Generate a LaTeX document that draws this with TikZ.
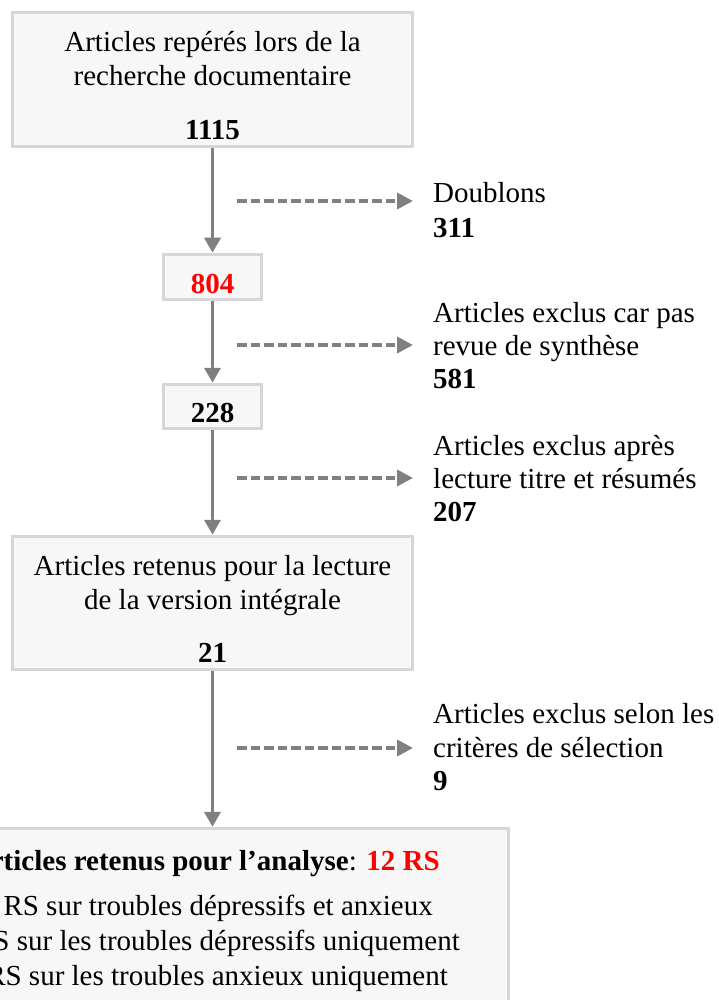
\documentclass[tikz,border=0pt]{standalone}
\usepackage{fontspec}
\setmainfont{Liberation Serif}
\usetikzlibrary{arrows.meta}
\definecolor{boxfill}{HTML}{F7F7F7}
\definecolor{boxline}{HTML}{D6D6D6}
\definecolor{arrowgray}{HTML}{808080}
\definecolor{numred}{HTML}{FF0000}
\begin{document}
\begin{tikzpicture}[x=1pt,y=-1pt,
  box/.style={draw=boxline, line width=3.5pt, fill=boxfill, inner sep=0pt, rectangle},
  txt/.style={inner sep=0pt, anchor=base, font=\fontsize{29}{34}\selectfont},
  rtxt/.style={inner sep=0pt, anchor=base east, font=\fontsize{29}{34}\selectfont},
  lab/.style={inner sep=0pt, anchor=base west, font=\fontsize{29}{34}\selectfont},
  flow/.style={draw=arrowgray, line width=3.8pt, -{Triangle[length=15pt,width=16pt]}},
  excl/.style={draw=arrowgray, line width=3.8pt, dash pattern=on 9.5pt off 4pt, -{Triangle[length=16pt,width=16pt]}}]
\useasboundingbox (0,0) rectangle (718,1000);
\clip (0,0) rectangle (718,1000);

% boxes
\node[box, minimum width=400pt, minimum height=134pt] (b1) at (212.5,79.5) {};
\node[box, minimum width=98pt, minimum height=45pt] (b2) at (212.5,277) {};
\node[box, minimum width=98pt, minimum height=44pt] (b3) at (212.5,406.5) {};
\node[box, minimum width=400pt, minimum height=133pt] (b4) at (212.5,603) {};
\node[box, minimum width=592pt, minimum height=231.5pt] (b5) at (212.5,944.25) {};

% box texts
\node[txt] (t1a) at (212.5,52) {Articles repérés lors de la};
\node[txt] (t1b) at (212.5,86) {recherche documentaire};
\node[txt] (t1c) at (212.5,140) {\textbf{1115}};
\node[txt] (t2) at (212.5,293) {\textcolor{numred}{\textbf{804}}};
\node[txt] (t3) at (212.5,422) {\textbf{228}};
\node[txt] (t4a) at (212.5,575) {Articles retenus pour la lecture};
\node[txt] (t4b) at (212.5,609) {de la version intégrale};
\node[txt] (t4c) at (212.5,662) {\textbf{21}};
\node[rtxt] (t5a) at (440,870) {\textbf{Articles retenus pour l’analyse}: \textcolor{numred}{\textbf{12 RS}}};
\node[rtxt] (t5b) at (433,915) {RS sur troubles dépressifs et anxieux};
\node[rtxt] (t5c) at (460,950) {RS sur les troubles dépressifs uniquement};
\node[rtxt] (t5d) at (448,985) {RS sur les troubles anxieux uniquement};

% main flow
\draw[flow] (b1.south) -- (b2.north);
\draw[flow] (b2.south) -- (b3.north);
\draw[flow] (b3.south) -- (b4.north);
\draw[flow] (b4.south) -- (b5.north);

% exclusions
\coordinate (d1s) at (237,201); \coordinate (d1e) at (413,201);
\coordinate (d2s) at (237,345); \coordinate (d2e) at (413,345);
\coordinate (d3s) at (237,478); \coordinate (d3e) at (413,478);
\coordinate (d4s) at (237,748); \coordinate (d4e) at (413,748);
\draw[excl] (d1s) -- (d1e);
\draw[excl] (d2s) -- (d2e);
\draw[excl] (d3s) -- (d3e);
\draw[excl] (d4s) -- (d4e);

\node[lab] (l1a) at (433,203) {Doublons};
\node[lab] (l1b) at (433,237) {\textbf{311}};
\node[lab] (l2a) at (433,322) {Articles exclus car pas};
\node[lab] (l2b) at (433,355) {revue de synthèse};
\node[lab] (l2c) at (433,388) {\textbf{581}};
\node[lab] (l3a) at (433,455) {Articles exclus après};
\node[lab] (l3b) at (433,488) {lecture titre et résumés};
\node[lab] (l3c) at (433,521) {\textbf{207}};
\node[lab] (l4a) at (433,723) {Articles exclus selon les};
\node[lab] (l4b) at (433,757) {critères de sélection};
\node[lab] (l4c) at (433,790) {\textbf{9}};
\end{tikzpicture}
\end{document}
